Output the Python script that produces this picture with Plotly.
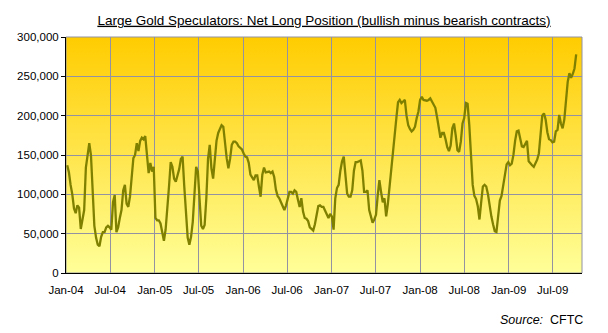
import base64
import pandas as pd
import plotly.graph_objects as go

# Weekly CFTC report dates (Tuesdays) from Jan 2004
first_report = "2004-01-06"

# Large speculators' net long gold futures position, thousands of contracts
net_long_k = [
    137, 128, 112, 100, 82, 76, 86, 83, 56, 66,
    80, 134, 152, 165, 150, 100, 60, 45, 36, 34,
    46, 52, 52, 58, 60, 58, 55, 90, 99, 52,
    58, 70, 80, 105, 112, 88, 84, 97, 125, 146,
    150, 165, 155, 168, 172, 170, 174, 150, 127, 140,
    129, 135,
    70, 67, 67, 63, 50, 41, 55, 80, 110, 141,
    135, 120, 116, 124, 132, 145, 148, 110, 70, 45,
    36, 46, 65, 105, 135, 129,
    95, 60, 56, 61, 95, 145, 163, 133, 120, 148,
    168, 178, 184, 188, 186, 165, 146, 133, 145, 163,
    167, 167, 165, 161, 159, 157,
    152, 148, 147, 140, 125, 121, 118, 124, 124, 110,
    97, 125, 134, 128, 129, 129, 127, 129, 122, 106,
    98, 95, 90, 85, 80, 86,
    97, 103, 103, 101, 105, 103, 93, 84, 95, 78,
    70, 69, 66, 58, 56, 54, 62, 75, 85, 86,
    84, 84, 80, 74, 70, 75,
    72, 55, 95, 108, 112, 130, 142, 148, 120, 101,
    97, 97, 105, 130, 141, 141, 142, 143, 130, 103,
    103, 105, 80, 72, 64, 68,
    74, 98, 118, 103, 90, 95, 72, 88, 112, 137,
    157, 175, 197, 217, 220, 216, 218, 220, 200, 188,
    183, 180, 182, 186, 197, 205,
    220, 224, 220, 219, 219, 220, 222, 218, 214, 210,
    198, 183, 172, 178, 178, 170, 160, 155, 162, 184,
    190, 175, 156, 154, 167, 190,
    197, 216, 215, 188, 146, 112, 98, 94, 85, 68,
    90, 110, 112, 110, 100, 84, 72, 62, 53, 52,
    70, 92, 98, 110, 126, 138,
    141, 137, 139, 150, 168, 180, 181, 169, 161, 160,
    165, 168, 142, 139, 137, 135, 140, 144, 152, 176,
    200, 203, 195, 179, 170, 169, 166, 167, 180, 182,
    201, 190, 184, 195, 216, 243, 254, 248, 253, 260,
    278,
]

report_dates = pd.date_range(first_report, periods=len(net_long_k), freq="7D")
net_long = [v * 1000 for v in net_long_k]

x_range = ["2004-01-01", "2009-10-30"]
y_range = [0, 300000]

title_text = "Large Gold Speculators: Net Long Position (bullish minus bearish contracts)"
source_text = "<i>Source:</i>\u00a0 CFTC"

LINE = "#808000"
GRID = "#9292A2"
FONT = "Liberation Sans, Arial, sans-serif"

# vertical orange-to-pale-yellow wash behind the plot area
grad_svg = (
    '<svg xmlns="http://www.w3.org/2000/svg" width="10" height="100" '
    'preserveAspectRatio="none"><defs><linearGradient id="g" x1="0" y1="0" '
    'x2="0" y2="1"><stop offset="0" stop-color="#FFCC00"/>'
    '<stop offset="1" stop-color="#FFFF99"/></linearGradient></defs>'
    '<rect width="10" height="100" fill="url(#g)"/></svg>'
)
grad_uri = "data:image/svg+xml;base64," + base64.b64encode(grad_svg.encode()).decode()

fig = go.Figure(
    go.Scatter(
        x=report_dates,
        y=net_long,
        mode="lines",
        line=dict(color=LINE, width=2.3),
        hoverinfo="x+y",
    )
)

fig.update_layout(
    width=608,
    height=333,
    autosize=False,
    margin=dict(l=66, r=26, t=37, b=60),
    paper_bgcolor="white",
    plot_bgcolor="rgba(0,0,0,0)",
    showlegend=False,
    font=dict(family=FONT, size=11.5, color="black"),
    title=dict(
        text=title_text,
        x=0.5 + (66 - 26) / 2 / 608,
        xanchor="center",
        y=1 - 20 / 333,
        yanchor="middle",
        font=dict(family=FONT, size=13.5, color="black", lineposition="under"),
    ),
    images=[
        dict(
            source=grad_uri,
            xref="paper", yref="paper",
            x=0, y=1, sizex=1, sizey=1,
            xanchor="left", yanchor="top",
            sizing="stretch",
            layer="below",
        )
    ],
    shapes=[
        dict(
            type="rect",
            xref="x domain", yref="y domain",
            x0=0, x1=1, y0=0, y1=1,
            line=dict(color=GRID, width=1),
            layer="below",
        )
    ],
    annotations=[
        dict(
            text=source_text,
            xref="paper", yref="paper",
            x=(585 - 66) / 516, y=-(319.5 - 273) / 236,
            xanchor="right", yanchor="middle",
            showarrow=False,
            font=dict(family=FONT, size=12.5, color="black"),
        )
    ],
)

fig.update_xaxes(
    type="date",
    range=x_range,
    tick0="2004-01-01",
    dtick="M6",
    tickformat="%b-%y",
    showgrid=True,
    gridcolor=GRID,
    gridwidth=1,
    showline=True,
    linecolor="black",
    linewidth=1,
    ticks="",
    ticklabelstandoff=6,
    zeroline=False,
    fixedrange=True,
)

fig.update_yaxes(
    range=y_range,
    dtick=50000,
    tickformat=",d",
    showgrid=True,
    gridcolor=GRID,
    gridwidth=1,
    showline=True,
    linecolor="black",
    linewidth=1,
    ticks="outside",
    ticklen=4,
    tickcolor="black",
    zeroline=False,
    fixedrange=True,
)

fig.write_html("out.html")
